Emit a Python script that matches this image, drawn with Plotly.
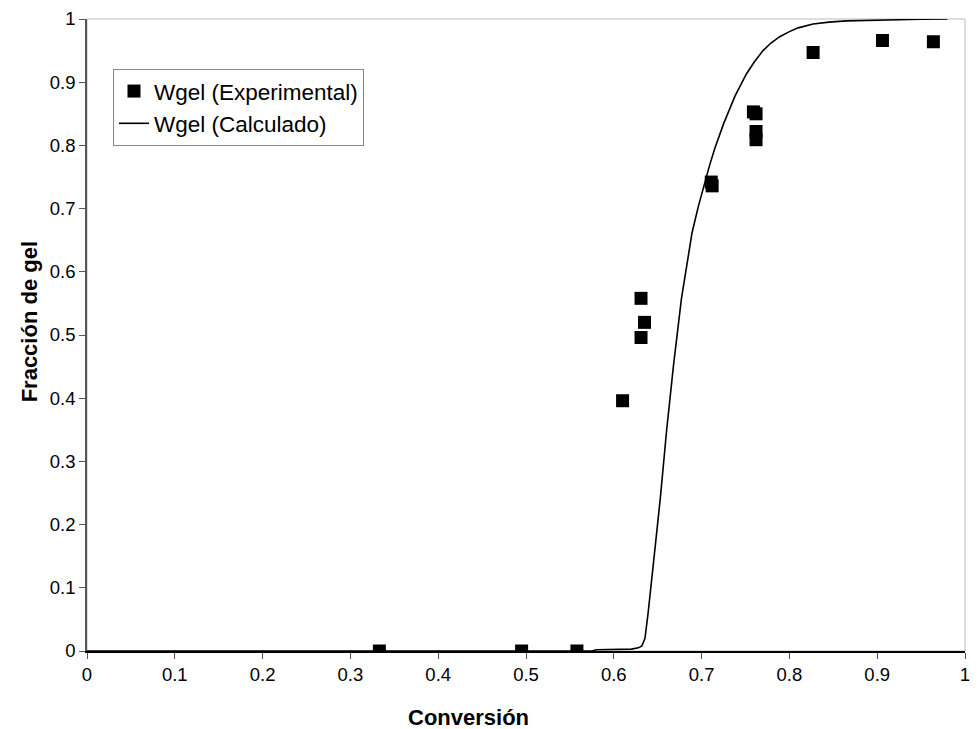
import plotly.graph_objects as go

# Experimental data
exp_x = [0.333, 0.495, 0.558, 0.610, 0.631, 0.635, 0.631, 0.711, 0.712,
         0.759, 0.762, 0.762, 0.762, 0.827, 0.906, 0.964]
exp_y = [0.0, 0.0, 0.0, 0.396, 0.558, 0.520, 0.496, 0.742, 0.736,
         0.853, 0.850, 0.822, 0.809, 0.947, 0.966, 0.964]

# Calculated curve
calc_x = [0.0, 0.575, 0.58, 0.60, 0.62, 0.628, 0.632, 0.6355, 0.639, 0.645, 0.653,
          0.660, 0.668, 0.677, 0.683, 0.689, 0.696, 0.703, 0.709, 0.715, 0.725, 0.738,
          0.751, 0.760, 0.770, 0.779, 0.789, 0.80, 0.81, 0.827, 0.845, 0.865, 0.89, 0.92, 0.95, 0.98]
calc_y = [0.0, 0.0, 0.002, 0.002, 0.003, 0.005, 0.008, 0.02, 0.059, 0.137, 0.242,
          0.347, 0.452, 0.557, 0.612, 0.661, 0.702, 0.738, 0.768, 0.795, 0.834, 0.878,
          0.913, 0.932, 0.950, 0.962, 0.972, 0.980, 0.986, 0.992, 0.995, 0.997, 0.998, 0.999, 0.9995, 1.0]

x_ticks = [0, 0.1, 0.2, 0.3, 0.4, 0.5, 0.6, 0.7, 0.8, 0.9, 1]
x_tick_labels = ["0", "0.1", "0.2", "0.3", "0.4", "0.5", "0.6", "0.7", "0.8", "0.9", "1"]
y_ticks = [0, 0.1, 0.2, 0.3, 0.4, 0.5, 0.6, 0.7, 0.8, 0.9, 1]
y_tick_labels = ["0", "0.1", "0.2", "0.3", "0.4", "0.5", "0.6", "0.7", "0.8", "0.9", "1"]

x_title = "Conversión"
y_title = "Fracción de gel"

FONT = "Liberation Sans, Arial, sans-serif"

fig = go.Figure()
fig.add_trace(go.Scatter(
    x=calc_x, y=calc_y, mode="lines", name="Wgel (Calculado)",
    line=dict(color="black", width=1.6), legendrank=2))
fig.add_trace(go.Scatter(
    x=exp_x, y=exp_y, mode="markers", name="Wgel (Experimental)",
    marker=dict(symbol="square", size=13, color="black"), legendrank=1))

fig.update_layout(
    width=970, height=721,
    margin=dict(l=79, r=13, t=11, b=78),
    paper_bgcolor="white", plot_bgcolor="white",
    font=dict(family=FONT, size=18.5, color="black"),
    showlegend=True,
    legend=dict(x=0.0296, y=0.921, xanchor="left", yanchor="top",
                bordercolor="#888888", borderwidth=1, bgcolor="white",
                font=dict(size=22.5, family=FONT), tracegroupgap=0,
                itemwidth=30),
    xaxis=dict(range=[0, 1], tickvals=x_ticks, ticktext=x_tick_labels,
               showgrid=False, zeroline=False, showline=True, automargin=False,
               linecolor="black", linewidth=1.5, ticks="outside",
               ticklen=6, tickcolor="#555555", ticklabeloverflow="allow"),
    yaxis=dict(range=[0, 1], tickvals=y_ticks, ticktext=y_tick_labels,
               showgrid=False, zeroline=False, showline=True, automargin=False,
               linecolor="#555555", linewidth=1.5, ticks="outside",
               ticklen=6, tickcolor="#555555", ticklabeloverflow="allow"),
    shapes=[dict(type="rect", xref="paper", yref="paper", x0=0, y0=0, x1=1, y1=1,
                 line=dict(color="#bbbbbb", width=1), layer="below")],
    annotations=[
        dict(text="<b>" + x_title + "</b>", xref="paper", yref="paper",
             x=0.435, y=0, xanchor="center", yanchor="middle", yshift=-66,
             showarrow=False, font=dict(size=22, family=FONT)),
        dict(text="<b>" + y_title + "</b>", xref="paper", yref="paper",
             x=0, y=0.52, xanchor="center", yanchor="middle", xshift=-58,
             textangle=-90, showarrow=False, font=dict(size=22, family=FONT)),
    ],
)

fig.write_html("out.html")
